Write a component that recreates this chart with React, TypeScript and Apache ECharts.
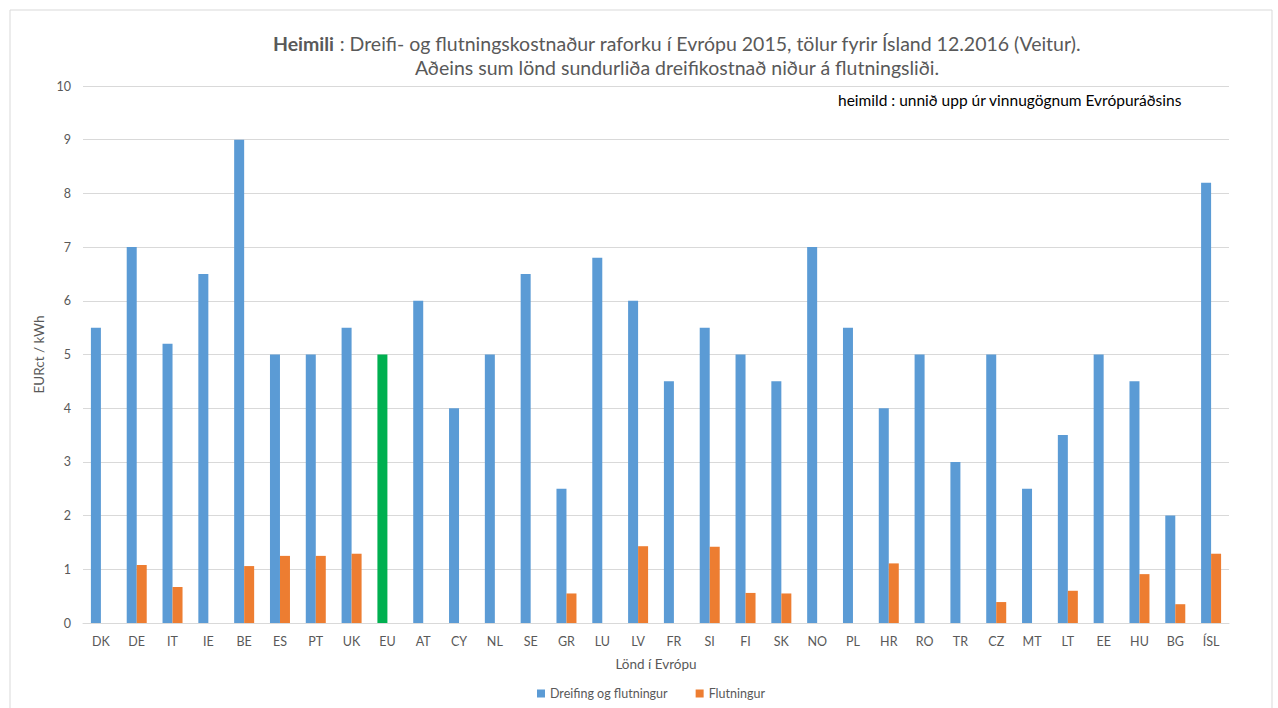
import React, { useEffect, useRef } from "react";
import * as echarts from "echarts";

const categories = ["DK","DE","IT","IE","BE","ES","PT","UK","EU","AT","CY","NL","SE","GR","LU","LV","FR","SI","FI","SK","NO","PL","HR","RO","TR","CZ","MT","LT","EE","HU","BG","ÍSL"];
const dreifing = [5.5,7,5.2,6.5,9,5,5,5.5,5,6,4,5,6.5,2.5,6.8,6,4.5,5.5,5,4.5,7,5.5,4,5,3,5,2.5,3.5,5,4.5,2,8.2];
const flutningur: (number | null)[] = [null,1.08,0.67,null,1.06,1.25,1.25,1.29,null,null,null,null,null,0.55,null,1.43,null,1.42,0.56,0.55,null,null,1.11,null,null,0.39,null,0.6,null,0.91,0.35,1.29];
const yTicks = [0,1,2,3,4,5,6,7,8,9,10];
const highlightCategory = "EU";

const FONT = "Lato, 'Open Sans', sans-serif";
const GREY = "#595959";

export default function App() {
  const ref = useRef<HTMLDivElement>(null);
  useEffect(() => {
    if (!ref.current) return;
    const chart = echarts.init(ref.current, null, { renderer: "svg" });
    chart.setOption({
      animation: false,
      backgroundColor: "#fff",
      textStyle: { fontFamily: FONT },
      title: {
        text: "{b|Heimili} : Dreifi- og flutningskostnaður raforku í Evrópu 2015, tölur fyrir Ísland 12.2016 (Veitur).\nAðeins sum lönd sundurliða dreifikostnað niður á flutningsliði.",
        left: 677,
        top: 31,
        padding: 0,
        textAlign: "center",
        textStyle: {
          fontFamily: FONT,
          fontSize: 19.5,
          fontWeight: "normal",
          color: GREY,
          lineHeight: 24,
          rich: {
            b: { fontFamily: FONT, fontSize: 19.5, fontWeight: "bold", color: GREY, lineHeight: 24 },
          },
        },
      },
      graphic: [
        {
          type: "rect",
          shape: { x: 10, y: 10, width: 1262, height: 720 },
          style: { fill: "none", stroke: "#d9d9d9", lineWidth: 1 },
          silent: true,
        },
        {
          type: "text",
          left: 838,
          top: 92,
          style: { text: "heimild : unnið upp úr vinnugögnum Evrópuráðsins", fontFamily: FONT, fontSize: 15.5, fill: "#000" },
        },
      ],
      legend: {
        bottom: 3,
        left: 532,
        itemWidth: 8,
        itemHeight: 8,
        itemGap: 28,
        icon: "rect",
        textStyle: { fontFamily: FONT, fontSize: 12.5, color: GREY },
        data: ["Dreifing og flutningur", "Flutningur"],
      },
      grid: { left: 83, right: 49, top: 86, bottom: 85, containLabel: false },
      xAxis: {
        type: "category",
        data: categories,
        name: "Lönd í Evrópu",
        nameLocation: "middle",
        nameGap: 34,
        nameTextStyle: { fontFamily: FONT, fontSize: 13.5, color: GREY },
        axisLine: { lineStyle: { color: "#d9d9d9" } },
        axisTick: { show: false },
        axisLabel: { color: GREY, fontSize: 12.5, fontFamily: FONT, margin: 12 },
      },
      yAxis: {
        type: "value",
        min: yTicks[0],
        max: yTicks[yTicks.length - 1],
        interval: 1,
        name: "EURct / kWh",
        nameLocation: "middle",
        nameGap: 34,
        nameRotate: 90,
        nameTextStyle: { fontFamily: FONT, fontSize: 13.5, color: GREY },
        axisLine: { show: false },
        axisTick: { show: false },
        axisLabel: { color: GREY, fontSize: 12.5, fontFamily: FONT, margin: 12 },
        splitLine: { lineStyle: { color: "#d9d9d9" } },
      },
      series: [
        {
          name: "Dreifing og flutningur",
          type: "bar",
          barWidth: 10,
          barGap: "0%",
          itemStyle: { color: "#5B9BD5" },
          data: dreifing.map((v, i) =>
            categories[i] === highlightCategory ? { value: v, itemStyle: { color: "#00B050" } } : v
          ),
        },
        {
          name: "Flutningur",
          type: "bar",
          barWidth: 10,
          barGap: "0%",
          itemStyle: { color: "#ED7D31" },
          data: flutningur.map((v) => (v === null ? "-" : v)),
        },
      ],
    });
    return () => chart.dispose();
  }, []);
  return <div ref={ref} style={{ position: "absolute", left: 0, top: 0, width: 1278, height: 708 }} />;
}
